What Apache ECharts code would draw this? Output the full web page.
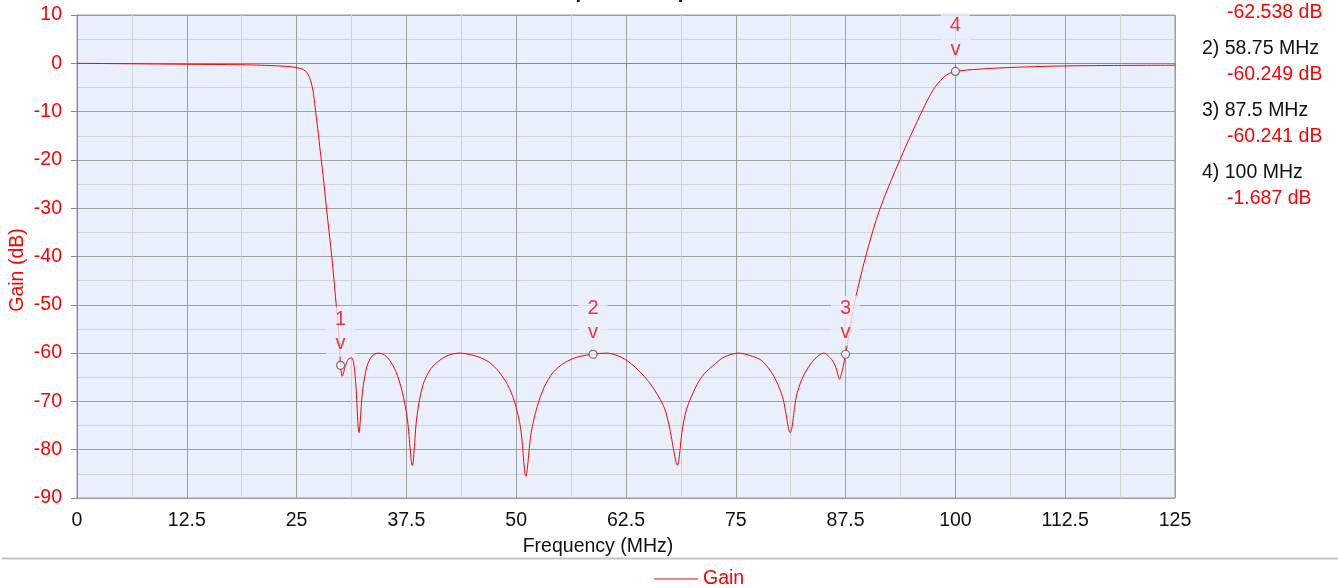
<!DOCTYPE html>
<html>
<head>
<meta charset="utf-8">
<script src="https://cdn.jsdelivr.net/npm/echarts@6/dist/echarts.min.js"></script>
<style>
html,body{margin:0;padding:0;background:#fff;}
#chart{width:1338px;height:588px;}
</style>
</head>
<body>
<div id="chart"></div>
<script>
// Frequency (MHz) and gain (dB)
const freqMHz = [0,3,6.25,12.5,18.75,21,23,24.5,25.5,26.0,26.3,26.6,26.9,27.1,27.4,27.7,28.0,28.4,29.0,29.56,29.85,30,
  30.2,30.5,30.9,31.3,31.7,32.1,32.5,33.0,33.6,34.3,35.0,35.6,36.3,37.0,37.6,38.17,38.7,39.4,40.3,41.5,42.5,43.6,44.8,46,47,48,49,49.8,50.5,51.1,51.7,52.4,53.2,54.2,55.5,57,58.75,
  60.3,61.5,62.4,63.6,64.85,65.7,66.4,67.0,67.5,68.35,68.9,69.4,70.5,71.4,72.4,73.7,75.3,76.6,77.75,78.5,79.3,79.9,80.4,81.2,81.9,82.5,83.1,84,85.0,85.9,86.4,86.8,87.2,87.5,
  88.0,88.6,89.9,91.4,93.7,96.2,97.5,98.6,99.3,100,101.3,102.8,104.6,108,112.2,118,125];
const gainDB = [0,-0.05,-0.1,-0.2,-0.3,-0.4,-0.55,-0.75,-1.1,-1.6,-2.3,-3.6,-6,-9,-13.5,-18.3,-23,-30,-40,-51,-57,-62.538,
  -64.8,-63,-61.2,-61,-65.5,-76.5,-68,-62.8,-60.6,-60,-60.4,-61.5,-63.8,-67.8,-73.5,-83.3,-73,-66.5,-63.2,-61.2,-60.3,-60,-60.3,-61,-62,-63.8,-66.5,-70,-75.5,-85.5,-76.5,-71,-67,-64,-62,-60.8,-60.249,
  -60,-60.5,-61.3,-63,-65.4,-67.5,-69.6,-72,-75.8,-83.2,-76,-71.6,-66.8,-64.3,-62.6,-60.8,-60,-60.5,-61.3,-62.6,-64.7,-67,-69.6,-76.5,-68.9,-65.5,-63.4,-61.2,-60,-61.3,-63,-65.4,-63,-60.241,
  -55,-48.9,-39.2,-30.2,-19.9,-9.9,-5.4,-3.0,-2.1,-1.687,-1.4,-1.2,-1.0,-0.75,-0.55,-0.45,-0.4];

// Markers
const markerIds = ['1','2','3','4'];
const markerFreq = [30, 58.75, 87.5, 100];
const markerGain = [-62.538, -60.249, -60.241, -1.687];
const markerFreqText = ['30 MHz','58.75 MHz','87.5 MHz','100 MHz'];

// Axis ticks
const xTicks = {min:0, max:125, interval:12.5};
const yTicks = {min:-90, max:10, interval:10};

const seriesName = 'Gain';
const xName = 'Frequency (MHz)';
const yName = 'Gain (dB)';
const titleText = 'Stopband Response';

const FONT = '"Liberation Sans", Arial, sans-serif';
const FS = 19.5;
const RED = '#ff0000';

const lineData = freqMHz.map((f,i)=>[f, gainDB[i]]);
const markerData = markerFreq.map((f,i)=>({value:[f, markerGain[i]], name:markerIds[i]}));

const graphics = [];
const rowY0 = -23;
markerIds.forEach((id,i)=>{
  const y = rowY0 + i*62;
  graphics.push({type:'text', left:1202, top:y, style:{text:id+') '+markerFreqText[i], fill:'#111', font:FS+'px '+FONT}});
  graphics.push({type:'text', left:1227, top:y+26, style:{text:markerGain[i].toFixed(3)+' dB', fill:RED, font:FS+'px '+FONT}});
});
graphics.push({type:'text', x:640, y:-18, style:{text:titleText, fill:'#111', font:'bold 20px '+FONT, textAlign:'center'}});
graphics.push({type:'text', x:598, y:547, style:{text:xName, fill:'#111', font:FS+'px '+FONT, textAlign:'center', textVerticalAlign:'middle'}});
graphics.push({type:'text', x:18, y:270, rotation:Math.PI/2, style:{text:yName, fill:RED, font:FS+'px '+FONT, textAlign:'center', textVerticalAlign:'middle'}});
graphics.push({type:'line', shape:{x1:2, y1:558.5, x2:1338, y2:558.5}, style:{stroke:'#c4c4c4', lineWidth:2}});

const chart = echarts.init(document.getElementById('chart'), null, {renderer:'canvas'});
chart.setOption({
  animation:false,
  textStyle:{fontFamily:FONT},
  grid:{left:77, right:163, top:15, bottom:90, show:true, backgroundColor:'#eaf0fb', borderColor:'#9a9a9a', borderWidth:1},
  legend:{data:[{name:seriesName, icon:'path://M0,0L44,0L44,1L0,1Z'}], left:649, top:564, itemWidth:44, itemHeight:1.2, itemGap:10,
    textStyle:{color:RED, fontSize:FS, fontFamily:FONT}},
  xAxis:{type:'value', min:xTicks.min, max:xTicks.max, interval:xTicks.interval,
    axisLine:{lineStyle:{color:'#8a8a8a'}}, axisTick:{show:true, length:6, lineStyle:{color:'#8a8a8a'}},
    axisLabel:{color:'#111', fontSize:FS, margin:13, fontFamily:FONT},
    splitLine:{show:true, lineStyle:{color:'#a0a0a0', width:1}},
    minorTick:{show:false, splitNumber:2},
    minorSplitLine:{show:true, lineStyle:{color:'#d2d2d2', width:1}}},
  yAxis:{type:'value', min:yTicks.min, max:yTicks.max, interval:yTicks.interval,
    axisLine:{show:true, lineStyle:{color:'#8a8a8a'}}, axisTick:{show:true, length:6, lineStyle:{color:'#8a8a8a'}},
    axisLabel:{color:RED, fontSize:FS, margin:15, fontFamily:FONT},
    splitLine:{show:true, lineStyle:{color:'#a0a0a0', width:1}},
    minorTick:{show:false, splitNumber:2},
    minorSplitLine:{show:true, lineStyle:{color:'#d2d2d2', width:1}}},
  series:[
    {name:seriesName, type:'line', data:lineData, symbol:'none', smooth:0.3,
      lineStyle:{color:RED, width:1}, itemStyle:{color:RED}, z:2},
    {name:'markers', type:'scatter', data:markerData, symbol:'circle', symbolSize:8,
      itemStyle:{color:'#fff', borderColor:'#555', borderWidth:1.2}, z:5,
      label:{show:true, position:'top', distance:4, formatter:p=>p.name+'\nv', color:RED, fontSize:20, lineHeight:24,
        fontFamily:FONT, backgroundColor:'#eaf0fb', padding:[1,9,1,9], borderRadius:3, align:'center'},
      emphasis:{disabled:true}}
  ],
  graphic:graphics
});
</script>
</body>
</html>
